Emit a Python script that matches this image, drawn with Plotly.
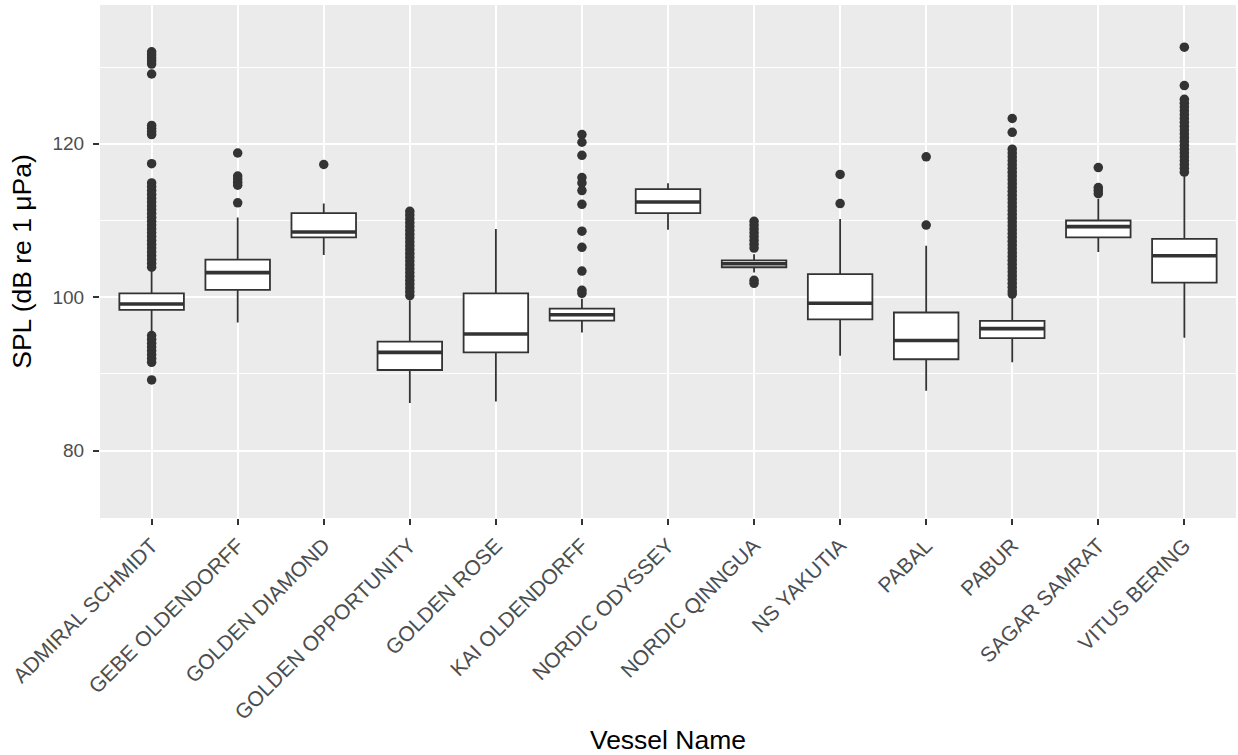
import plotly.graph_objects as go

# Vessel names (x categories)
vessels = ["ADMIRAL SCHMIDT", "GEBE OLDENDORFF", "GOLDEN DIAMOND", "GOLDEN OPPORTUNITY",
           "GOLDEN ROSE", "KAI OLDENDORFF", "NORDIC ODYSSEY", "NORDIC QINNGUA",
           "NS YAKUTIA", "PABAL", "PABUR", "SAGAR SAMRAT", "VITUS BERING"]

# Box statistics, SPL in dB re 1 uPa
q1 = [98.35, 100.95, 107.8, 90.5, 92.8, 96.95, 110.95, 103.9, 97.1, 91.9, 94.65, 107.8, 101.9]
median = [99.1, 103.2, 108.5, 92.8, 95.2, 97.7, 112.4, 104.35, 99.2, 94.35, 95.9, 109.2, 105.4]
q3 = [100.5, 104.9, 110.95, 94.2, 100.5, 98.5, 114.1, 104.8, 103.0, 98.0, 96.9, 110.0, 107.6]
whisker_low = [95.4, 96.7, 105.5, 86.2, 86.4, 95.4, 108.8, 103.2, 92.35, 87.8, 91.5, 105.9, 94.7]
whisker_high = [103.6, 110.4, 112.2, 99.6, 108.9, 99.8, 114.85, 105.6, 110.2, 106.7, 100.2, 112.8, 115.7]

# Outlying observations per vessel
out_admiral = [132.0, 131.6, 131.2, 130.8, 130.4, 129.1, 122.4, 122.0, 121.6, 121.2, 117.4,
               114.9, 114.4, 113.9, 113.4, 112.9, 112.4, 111.9, 111.4, 110.9, 110.4, 109.9,
               109.4, 108.9, 108.4, 107.9, 107.4, 106.9, 106.4, 105.9, 105.4, 104.9, 104.4,
               103.9, 95.0, 94.5, 94.0, 93.5, 93.0, 92.5, 92.0, 91.5, 89.2]
out_gebe = [118.8, 115.8, 115.4, 115.0, 114.6, 112.3]
out_diamond = [117.3]
out_opportunity = [111.2, 110.7, 110.2, 109.7, 109.2, 108.7, 108.2, 107.7, 107.2, 106.7, 106.2,
                   105.7, 105.2, 104.7, 104.2, 103.7, 103.2, 102.7, 102.2, 101.7, 101.2, 100.7,
                   100.2]
out_rose = []
out_kai = [121.2, 120.2, 118.5, 115.6, 114.9, 113.9, 112.1, 108.6, 106.5, 103.4, 100.9, 100.5]
out_odyssey = []
out_qinngua = [109.9, 109.4, 108.9, 108.4, 107.9, 107.4, 106.9, 106.4, 102.2, 101.8]
out_yakutia = [116.0, 112.2]
out_pabal = [118.3, 109.4]
out_pabur = [123.3, 121.5, 119.3, 118.8, 118.3, 117.8, 117.3, 116.8, 116.3, 115.8, 115.3, 114.8,
             114.3, 113.8, 113.3, 112.8, 112.3, 111.8, 111.3, 110.8, 110.3, 109.8, 109.3, 108.8,
             108.3, 107.8, 107.3, 106.8, 106.3, 105.8, 105.3, 104.8, 104.3, 103.8, 103.3, 102.8,
             102.3, 101.8, 101.3, 100.8, 100.4]
out_sagar = [116.9, 114.3, 113.9, 113.5]
out_vitus = [132.6, 127.6, 125.8, 125.3, 124.8, 124.3, 123.8, 123.3, 122.8, 122.3, 121.8, 121.3,
             120.8, 120.3, 119.8, 119.3, 118.8, 118.3, 117.8, 117.3, 116.8, 116.3]

outliers = [out_admiral, out_gebe, out_diamond, out_opportunity, out_rose, out_kai, out_odyssey,
            out_qinngua, out_yakutia, out_pabal, out_pabur, out_sagar, out_vitus]

INK = "#333333"
BOX_W = 0.75
FONT = "Liberation Sans, Arial, sans-serif"

pos = list(range(len(vessels)))

fig = go.Figure()

# Boxes from precomputed statistics (no whisker caps)
fig.add_trace(go.Box(
    x=pos, q1=q1, median=median, q3=q3,
    lowerfence=whisker_low, upperfence=whisker_high,
    width=BOX_W, whiskerwidth=0, fillcolor="white",
    line=dict(color=INK, width=1.8),
    boxpoints=False, showlegend=False, hoverinfo="skip",
))

# Heavier median bars, ggplot style
mx, my = [], []
for i, m in zip(pos, median):
    mx += [i - BOX_W / 2, i + BOX_W / 2, None]
    my += [m, m, None]
fig.add_trace(go.Scatter(x=mx, y=my, mode="lines",
                         line=dict(color=INK, width=3.6),
                         showlegend=False, hoverinfo="skip"))

# Outlier points
ox, oy = [], []
for i, vals in zip(pos, outliers):
    ox += [i] * len(vals)
    oy += vals
fig.add_trace(go.Scatter(x=ox, y=oy, mode="markers",
                         marker=dict(color=INK, size=9.5, line=dict(width=0)),
                         showlegend=False, hoverinfo="skip"))

fig.update_layout(
    width=1238, height=755,
    margin=dict(l=100, r=2, t=5, b=237),
    paper_bgcolor="white", plot_bgcolor="#EBEBEB",
    font=dict(family=FONT, color="#4D4D4D"),
)

fig.update_xaxes(
    range=[-0.6, len(vessels) - 0.4],
    tickmode="array", tickvals=pos, ticktext=vessels,
    tickangle=-45, tickfont=dict(size=21, color="#4D4D4D"),
    ticks="outside", ticklen=6, tickwidth=1.5, tickcolor=INK,
    showgrid=True, gridcolor="white", gridwidth=1.5,
    zeroline=False, showline=False, automargin=False,
    title=dict(text="Vessel Name", font=dict(size=26.5, color="black"), standoff=10),
)

fig.update_yaxes(
    range=[71.2, 138.1],
    tick0=0, dtick=20, tickfont=dict(size=19, color="#4D4D4D"),
    ticks="outside", ticklen=6, tickwidth=1.5, tickcolor=INK,
    ticklabelstandoff=5,
    showgrid=True, gridcolor="white", gridwidth=1.5,
    minor=dict(dtick=10, tick0=0, showgrid=True, gridcolor="white", gridwidth=0.75, ticks=""),
    zeroline=False, showline=False, automargin=False,
    title=dict(text="SPL (dB re 1 μPa)", font=dict(size=26.5, color="black"), standoff=13),
)

fig.write_html("out.html")
